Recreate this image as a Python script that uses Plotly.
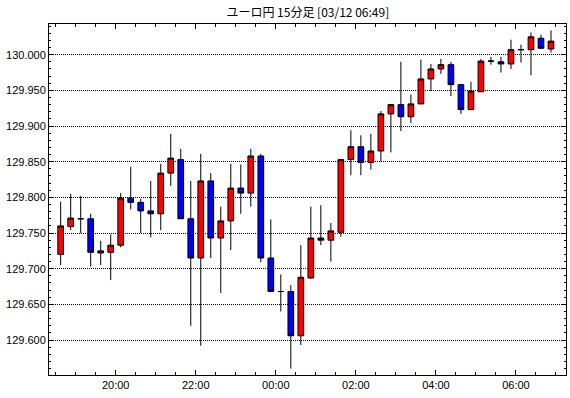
import pandas as pd
import plotly.graph_objects as go

times = ["18:30", "18:45", "19:00", "19:15", "19:30", "19:45", "20:00", "20:15", "20:30", "20:45",
         "21:00", "21:15", "21:30", "21:45", "22:00", "22:15", "22:30", "22:45", "23:00", "23:15",
         "23:30", "23:45", "00:00", "00:15", "00:30", "00:45", "01:00", "01:15", "01:30", "01:45",
         "02:00", "02:15", "02:30", "02:45", "03:00", "03:15", "03:30", "03:45", "04:00", "04:15",
         "04:30", "04:45", "05:00", "05:15", "05:30", "05:45", "06:00", "06:15", "06:30", "06:45"]

opens = [129.720, 129.759, 129.770, 129.770, 129.722, 129.723, 129.733, 129.799, 129.793, 129.781,
         129.777, 129.834, 129.853, 129.770, 129.715, 129.823, 129.743, 129.767, 129.813, 129.806,
         129.858, 129.715, 129.668, 129.668, 129.606, 129.687, 129.743, 129.740, 129.751, 129.853,
         129.871, 129.849, 129.865, 129.917, 129.930, 129.913, 129.931, 129.966, 129.980, 129.986,
         129.958, 129.923, 129.948, 129.991, 129.990, 129.987, 130.007, 130.007, 130.023, 130.008]
highs = [129.794, 129.805, 129.802, 129.777, 129.739, 129.748, 129.806, 129.843, 129.798, 129.823,
         129.847, 129.889, 129.868, 129.823, 129.861, 129.834, 129.787, 129.847, 129.846, 129.868,
         129.861, 129.769, 129.692, 129.677, 129.733, 129.787, 129.789, 129.764, 129.853, 129.894,
         129.887, 129.889, 129.921, 129.931, 129.990, 129.944, 129.993, 129.987, 129.994, 129.990,
         129.959, 129.962, 129.994, 129.997, 129.997, 130.021, 130.014, 130.031, 130.028, 130.034]
lows = [129.705, 129.754, 129.750, 129.703, 129.705, 129.684, 129.730, 129.783, 129.750, 129.744,
        129.754, 129.816, 129.770, 129.620, 129.592, 129.715, 129.666, 129.726, 129.777, 129.787,
        129.709, 129.668, 129.640, 129.560, 129.593, 129.686, 129.733, 129.710, 129.745, 129.831,
        129.831, 129.839, 129.850, 129.863, 129.893, 129.904, 129.931, 129.949, 129.973, 129.942,
        129.917, 129.923, 129.948, 129.986, 129.975, 129.980, 129.989, 129.971, 130.008, 130.003]
closes = [129.760, 129.771, 129.770, 129.723, 129.725, 129.733, 129.799, 129.793, 129.781, 129.777,
          129.834, 129.855, 129.770, 129.715, 129.823, 129.743, 129.767, 129.813, 129.806, 129.858,
          129.715, 129.668, 129.668, 129.606, 129.688, 129.743, 129.740, 129.753, 129.853, 129.871,
          129.849, 129.865, 129.917, 129.930, 129.913, 129.931, 129.966, 129.980, 129.986, 129.958,
          129.923, 129.949, 129.991, 129.991, 129.987, 130.007, 130.007, 130.025, 130.009, 130.019]

title_text = "ユーロ円 15分足 [03/12 06:49]"

# build timestamps (evening of 03/11, morning of 03/12), centred in each 15-minute bar
stamps = []
for t in times:
    hh = int(t.split(":")[0])
    day = "2024-03-11" if hh >= 12 else "2024-03-12"
    stamps.append(pd.Timestamp(f"{day} {t}") + pd.Timedelta(minutes=7.5))

fig = go.Figure(go.Candlestick(
    x=stamps, open=opens, high=highs, low=lows, close=closes,
    increasing=dict(fillcolor="#ff0000", line=dict(color="#000000", width=1)),
    decreasing=dict(fillcolor="#0000ff", line=dict(color="#000000", width=1)),
    whiskerwidth=0,
    hoverinfo="skip",
))

fig.update_layout(
    width=570, height=398,
    margin=dict(l=49, r=4, t=24, b=23, pad=0, autoexpand=False),
    paper_bgcolor="#ffffff", plot_bgcolor="#ffffff",
    showlegend=False,
    boxgap=0.43, boxgroupgap=0,
    font=dict(family="Liberation Sans", size=11, color="#000000"),
    title=dict(text=title_text, x=0.54, xanchor="center", y=0.967, yanchor="middle",
               automargin=False,
               font=dict(family="Noto Sans CJK JP", size=12, color="#000000")),
)

fig.update_xaxes(
    type="date", automargin=False,
    range=["2024-03-11 18:20", "2024-03-12 07:15"],
    rangeslider=dict(visible=False),
    tickformat="%H:%M", dtick=7200000, tick0="2024-03-11 00:00",
    ticks="inside", ticklen=5, tickwidth=1, tickcolor="#000000",
    minor=dict(ticks="inside", dtick=1800000, tick0="2024-03-11 00:00", ticklen=3,
               tickwidth=1, tickcolor="#000000", showgrid=False),
    showline=True, linecolor="#000000", linewidth=1, mirror="ticks",
    showgrid=False, zeroline=False,
    tickfont=dict(family="Liberation Sans", size=11, color="#000000"),
)

fig.update_yaxes(
    automargin=False,
    range=[129.551, 130.043],
    tick0=129.6, dtick=0.05, tickformat=".3f",
    ticks="inside", ticklen=4, tickwidth=1, tickcolor="#000000",
    minor=dict(ticks="inside", dtick=0.01, tick0=129.6, ticklen=2,
               tickwidth=1, tickcolor="#000000", showgrid=False),
    showline=True, linecolor="#000000", linewidth=1, mirror="ticks",
    showgrid=True, gridcolor="#000000", gridwidth=1, griddash="1px,1px",
    zeroline=False,
    tickfont=dict(family="Liberation Sans", size=11, color="#000000"),
)

fig.write_html("out.html", config={"displayModeBar": False},
               post_script="document.body.style.margin='0';")
